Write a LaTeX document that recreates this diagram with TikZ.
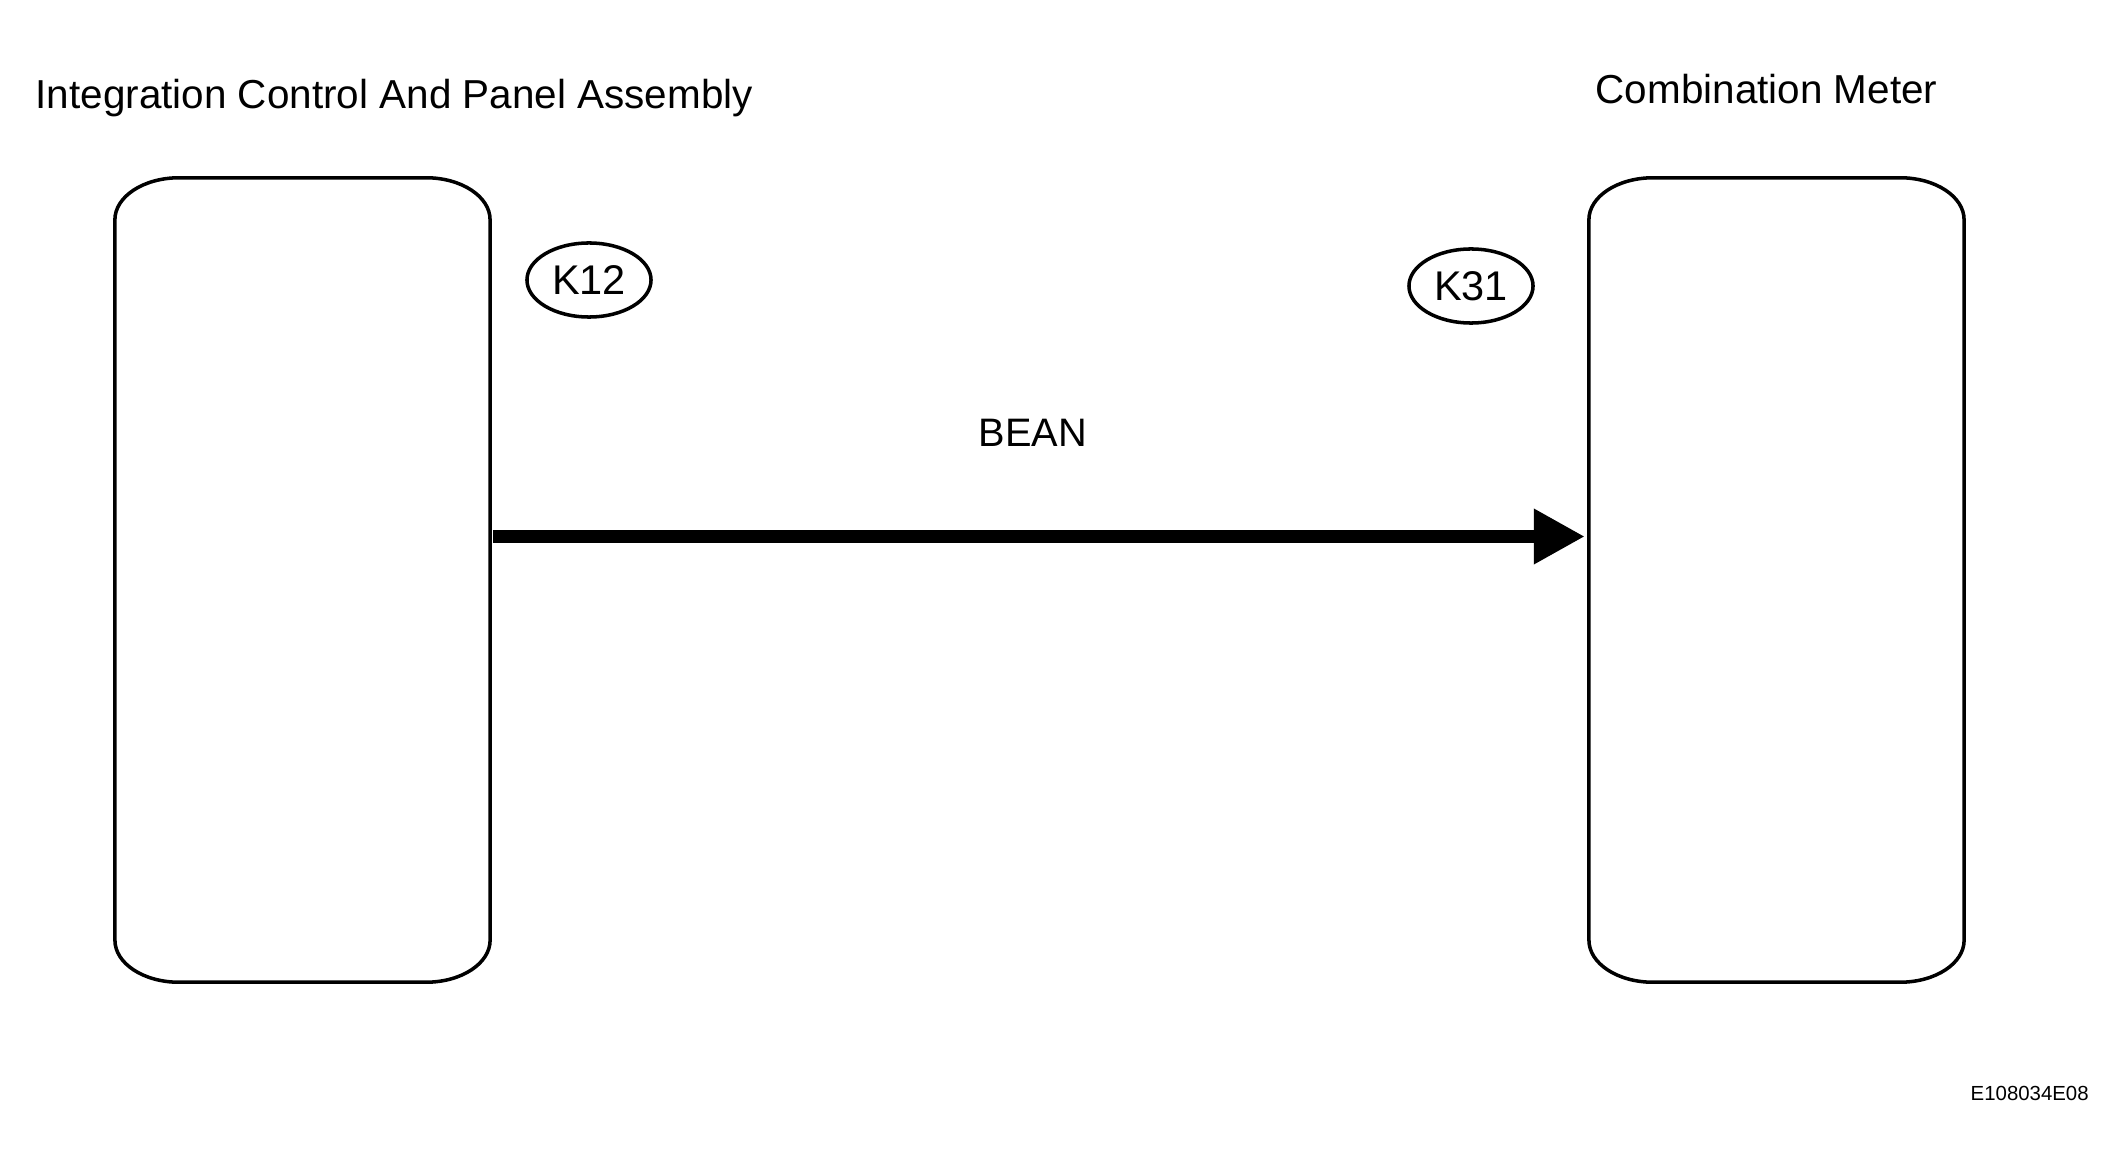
\documentclass[tikz,border=0pt]{standalone}
\usepackage{fontspec}
\setmainfont{Liberation Sans}
\usetikzlibrary{arrows.meta,shapes.geometric}

\tikzset{
  ecu/.style = {draw = none, inner sep = 0pt, outer sep = 0pt,
                minimum width = 3.75cm, minimum height = 8.04cm},
  eculine/.style = {line width = 1pt, line join = round},
  conn/.style = {draw, ellipse, line width = 1pt, inner sep = 0pt,
                 minimum width = 1.24cm, minimum height = 0.74cm,
                 font = \fontsize{11.8}{14}\selectfont},
  title/.style = {anchor = base west, inner sep = 0pt,
                  font = \fontsize{11.5}{14}\selectfont},
  busline/.style = {line width = 0.12cm,
                    -{Triangle[length = 0.5cm, width = 0.56cm, line width = 0pt]},
                    shorten < = 0.03cm, shorten > = 0.05cm},
}

\begin{document}
\begin{tikzpicture}[x = 0.01cm, y = 0.01cm]
    \useasboundingbox (0,0) rectangle (2124,1175);

    % units
    \node[ecu] (icp) at (302.5,595) {};
    \node[ecu] (meter) at (1776.5,595) {};

    \foreach \n in {icp, meter} {
      \draw[eculine] ([yshift = 0.42cm]\n.south west)
        -- ([yshift = -0.42cm]\n.north west)
        arc[start angle = 180, end angle = 90, x radius = 64, y radius = 42]
        -- ([xshift = -0.64cm]\n.north east)
        arc[start angle = 90, end angle = 0, x radius = 64, y radius = 42]
        -- ([yshift = 0.42cm]\n.south east)
        arc[start angle = 0, end angle = -90, x radius = 64, y radius = 42]
        -- ([xshift = 0.64cm]\n.south west)
        arc[start angle = 270, end angle = 180, x radius = 64, y radius = 42]
        -- cycle;
    }

    \node[title] (licp) at (35,1066) {Integration Control And Panel Assembly};
    \node[title] (lmeter) at (1595,1071) {Combination Meter};

    % connectors
    \node[conn] (k12) at (589,895) {K12};
    \node[conn] (k31) at (1471,889) {K31};

    % bus
    \coordinate (bus) at (0,638.5);
    \draw[busline] (icp.east |- bus) -- (meter.west |- bus);
    \node[anchor = base, inner sep = 0pt,
          font = \fontsize{11.3}{14}\selectfont] (lbean) at (1033,728) {BEAN};

    \node[anchor = base west, inner sep = 0pt,
          font = \fontsize{5.8}{7}\selectfont] (code) at (1970,75) {E108034E08};
\end{tikzpicture}
\end{document}
